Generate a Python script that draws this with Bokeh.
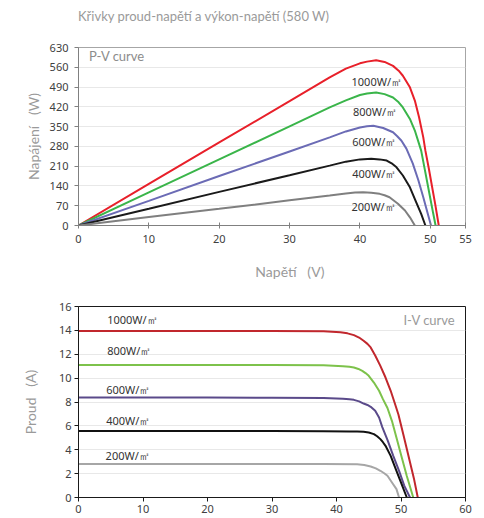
from bokeh.plotting import figure
from bokeh.layouts import column
from bokeh.models import FixedTicker, Range1d, Label, Div
from bokeh.core.properties import value
from bokeh.embed import file_html
from bokeh.resources import INLINE

# ---------------- data ----------------
chart_title = "Křivky proud-napětí a výkon-napětí (580 W)"
irradiance_labels = ["1000W/㎡", "800W/㎡", "600W/㎡", "400W/㎡", "200W/㎡"]

# P-V curves (voltage V, power W)
pv_v_1000 = [0, 10, 20, 30, 35.7, 38, 40, 41, 42.3, 43.5, 44.7, 45.5, 46.1, 47.1, 47.8, 48.4, 49.0, 49.3, 49.8, 50.3, 50.7, 51.2]
pv_p_1000 = [0, 147, 294, 440, 524, 555, 574, 580, 585, 579, 565, 548, 530, 489, 442, 383, 312, 265, 200, 130, 75, 0]
pv_v_800 = [0, 10, 20, 30, 35.7, 38, 40, 41, 42.3, 43.5, 44.7, 45.5, 46.1, 47.1, 47.8, 48.4, 48.7, 49.3, 49.9, 50.4, 50.75]
pv_p_800 = [0, 117, 234, 351, 418, 443, 462, 467, 471, 465, 453, 436, 418, 377, 336, 289, 265, 187, 109, 44, 0]
pv_v_600 = [0, 10, 20, 30, 35.7, 38, 40, 41, 41.9, 43.3, 44.7, 45.3, 45.9, 46.6, 47.5, 48.3, 49.0, 49.6, 50.1]
pv_p_600 = [0, 87, 175, 262, 312, 333, 347, 351, 353, 345, 330, 316, 300, 272, 220, 160, 100, 45, 0]
pv_v_400 = [0, 10, 20, 30, 35.7, 38, 40, 41.6, 42.8, 43.8, 44.5, 45.2, 46.1, 47.1, 48.0, 48.7, 49.3]
pv_p_400 = [0, 59, 119, 178, 212, 226, 234, 236, 234, 230, 220, 206, 177, 135, 82, 41, 0]
pv_v_200 = [0, 10, 20, 30, 35.7, 38, 39.3, 40.45, 41.6, 42.8, 43.5, 44.2, 45.4, 46.4, 47.1, 47.8]
pv_p_200 = [0, 30, 59, 89, 106, 113, 116.5, 118, 116, 112, 107, 100, 77, 53, 29, 0]

# I-V curves (voltage V, current A)
iv_v_1000 = [0, 10, 20, 30, 38, 40.6, 41.7, 42.7, 43.5, 44.2, 44.8, 45.3, 46.0, 46.8, 47.6, 48.4, 49.0, 49.6, 50.4, 51.2, 52.0, 52.6]
iv_i_1000 = [13.95, 13.95, 13.95, 13.94, 13.92, 13.85, 13.75, 13.6, 13.4, 13.13, 12.87, 12.57, 11.89, 11.03, 10.05, 8.94, 7.96, 6.95, 5.2, 3.4, 1.6, 0]
iv_v_800 = [0, 10, 20, 30, 38, 41, 42, 42.7, 43.4, 44.0, 44.5, 45.0, 45.8, 46.6, 47.2, 47.9, 48.6, 49.3, 50.1, 50.9, 51.9]
iv_i_800 = [11.1, 11.1, 11.1, 11.09, 11.07, 11.0, 10.95, 10.89, 10.77, 10.61, 10.42, 10.19, 9.63, 8.94, 8.24, 7.5, 6.4, 5.0, 3.4, 1.8, 0]
iv_v_600 = [0, 10, 20, 30, 38, 41, 42, 42.7, 43.5, 44.2, 44.8, 45.3, 46.0, 46.6, 47.1, 47.96, 48.8, 49.7, 50.5, 51.4]
iv_i_600 = [8.37, 8.37, 8.37, 8.36, 8.34, 8.28, 8.23, 8.18, 8.05, 7.87, 7.75, 7.6, 7.26, 6.7, 5.9, 4.75, 3.49, 2.23, 1.0, 0]
iv_v_400 = [0, 10, 20, 30, 38, 42, 43.2, 44.2, 45.0, 45.8, 46.3, 46.8, 47.2, 47.6, 48.4, 49.1, 49.9, 50.9]
iv_i_400 = [5.58, 5.58, 5.58, 5.57, 5.56, 5.53, 5.52, 5.5, 5.44, 5.31, 5.13, 4.89, 4.63, 4.33, 3.49, 2.51, 1.4, 0]
iv_v_200 = [0, 10, 20, 30, 38, 43.2, 44.3, 45.3, 46.1, 46.8, 47.4, 47.9, 48.6, 49.3, 49.7]
iv_i_200 = [2.8, 2.8, 2.8, 2.8, 2.8, 2.78, 2.72, 2.6, 2.44, 2.24, 2.03, 1.82, 1.26, 0.7, 0]

pv_x_ticks = [0, 10, 20, 30, 40, 50, 55]
pv_y_ticks = [0, 70, 140, 210, 280, 350, 420, 490, 560, 630]
iv_x_ticks = [0, 10, 20, 30, 40, 50, 60]
iv_y_ticks = [0, 2, 4, 6, 8, 10, 12, 14, 16]

# label anchor positions (data units)
pv_label_x = [38.8, 39.0, 38.9, 38.9, 38.8]
pv_label_y = [509, 403, 298, 184, 68]
iv_label_x = [4.45, 4.45, 4.3, 4.3, 4.2]
iv_label_y = [14.88, 12.29, 9.08, 6.42, 3.49]

pv_colors = ["#e8202a", "#3ab54a", "#6b6bb5", "#1a1a1a", "#7f7f7f"]
iv_colors = ["#c1272d", "#7dc24b", "#5a4a8a", "#111111", "#a6a6a6"]

FONT = "Noto Sans"
NB = "\u00a0"

def style_axes(p, axis_color, tick_label_color="#404040"):
    for ax in [p.xaxis[0], p.yaxis[0]]:
        ax.axis_line_color = axis_color
        ax.major_tick_line_color = axis_color
        ax.minor_tick_line_color = None
        ax.major_label_text_font = FONT
        ax.major_label_text_font_size = "11px"
        ax.major_label_text_color = tick_label_color
        ax.axis_label_text_font = "Lato"
        ax.axis_label_text_font_size = "14px"
        ax.axis_label_text_font_style = "normal"
        ax.axis_label_text_color = "#9a9a9a"
    p.xgrid.grid_line_color = None
    p.ygrid.grid_line_color = "#e8e8e8"

# ---------------- title ----------------
title_div = Div(text=chart_title, width=480, height=30, margin=0,
                styles={"font-family": "Lato", "font-size": "13px", "color": "#9a9a9a",
                        "padding-left": "78px", "padding-top": "8px", "line-height": "16px",
                        "white-space": "nowrap"})

# ---------------- P-V chart ----------------
p1 = figure(width=480, height=253, x_range=Range1d(0, 55), y_range=Range1d(0, 630),
            output_backend="svg", toolbar_location=None,
            min_border_left=78, min_border_right=15, min_border_top=17, min_border_bottom=58)
p1.outline_line_color = "#a6a6a6"
style_axes(p1, "#808080")
p1.xaxis.ticker = FixedTicker(ticks=pv_x_ticks)
p1.yaxis.ticker = FixedTicker(ticks=pv_y_ticks)
p1.xaxis.major_tick_in = 3
p1.xaxis.major_tick_out = 3
p1.yaxis.major_tick_in = 0
p1.yaxis.major_tick_out = 4
p1.xaxis.major_label_standoff = 6
p1.yaxis.major_label_standoff = 6
p1.xaxis.axis_label = NB * 10 + "Napětí" + NB + NB + NB + "(V)"
p1.yaxis.axis_label = "Napájení" + NB + NB + NB + "(W)"
p1.xaxis.axis_label_standoff = 17
p1.yaxis.axis_label_standoff = 5

pv_v = [pv_v_1000, pv_v_800, pv_v_600, pv_v_400, pv_v_200]
pv_p = [pv_p_1000, pv_p_800, pv_p_600, pv_p_400, pv_p_200]
for xs, ys, c in zip(pv_v, pv_p, pv_colors):
    p1.line(xs, ys, line_color=c, line_width=2)

p1.text(x=pv_label_x, y=pv_label_y, text=irradiance_labels,
        text_font=value(FONT), text_font_size="11px", text_color="#333333",
        text_align="left", text_baseline="middle")
p1.add_layout(Label(x=1.5, y=600, text="P-V curve", text_font="Lato", text_font_size="13px",
                    text_color="#8c8c8c", text_baseline="middle", text_align="left"))

# ---------------- I-V chart ----------------
p2 = figure(width=480, height=233, x_range=Range1d(0, 60), y_range=Range1d(0, 16),
            output_backend="svg", toolbar_location=None,
            min_border_left=78, min_border_right=15, min_border_top=23, min_border_bottom=19)
p2.outline_line_color = "#1a1a1a"
style_axes(p2, "#1a1a1a")
p2.xaxis.ticker = FixedTicker(ticks=iv_x_ticks)
p2.yaxis.ticker = FixedTicker(ticks=iv_y_ticks)
p2.xaxis.major_tick_in = 0
p2.xaxis.major_tick_out = 4
p2.yaxis.major_tick_in = 0
p2.yaxis.major_tick_out = 4
p2.xaxis.major_label_standoff = 3
p2.yaxis.major_label_standoff = 3
p2.yaxis.axis_label = "Proud" + NB + NB + NB + "(A)"
p2.yaxis.axis_label_standoff = 17

iv_v = [iv_v_1000, iv_v_800, iv_v_600, iv_v_400, iv_v_200]
iv_i = [iv_i_1000, iv_i_800, iv_i_600, iv_i_400, iv_i_200]
for xs, ys, c in zip(iv_v, iv_i, iv_colors):
    p2.line(xs, ys, line_color=c, line_width=2)

p2.text(x=iv_label_x, y=iv_label_y, text=irradiance_labels,
        text_font=value(FONT), text_font_size="11px", text_color="#333333",
        text_align="left", text_baseline="middle")
p2.add_layout(Label(x=58.4, y=14.9, text="I-V curve", text_font="Lato", text_font_size="13px",
                    text_color="#9a9a9a", text_baseline="middle", text_align="right"))

layout = column(title_div, p1, p2, spacing=0)
open("out.html", "w").write(file_html(layout, INLINE))
